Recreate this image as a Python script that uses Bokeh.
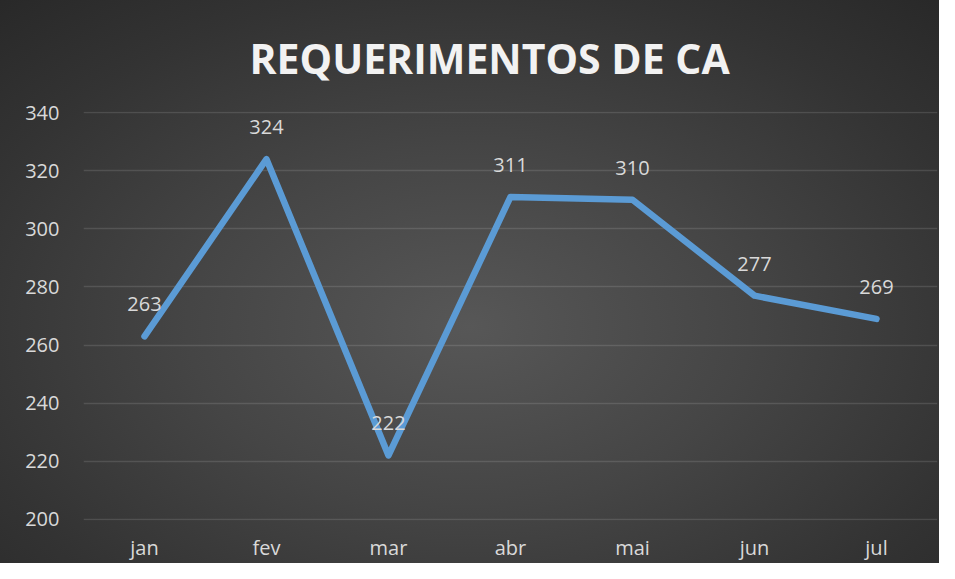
from bokeh.plotting import figure
from bokeh.models import ColumnDataSource, LabelSet, Range1d, Title
from bokeh.core.properties import value
from bokeh.embed import file_html
from bokeh.resources import INLINE

months = ["jan", "fev", "mar", "abr", "mai", "jun", "jul"]
values = [263, 324, 222, 311, 310, 277, 269]
labels = [str(v) for v in values]
y_ticks = [200, 220, 240, 260, 280, 300, 320, 340]
title_text = "REQUERIMENTOS DE CA"

source = ColumnDataSource(dict(x=months, y=values, label=labels))

p = figure(
    x_range=months,
    y_range=Range1d(199.6, 340.4),
    width=939,
    height=563,
    output_backend="svg",
    toolbar_location=None,
    min_border_left=83,
    min_border_right=2,
    min_border_top=111,
    min_border_bottom=41,
)

p.styles = {"background": "radial-gradient(ellipse 75% 80% at 50% 58%, #575757 0%, #454545 40%, #333333 75%, #282828 100%)"}
p.border_fill_alpha = 0
p.background_fill_alpha = 0
p.outline_line_color = None

p.title = Title(text=title_text, align="left", text_font="Open Sans",
                text_font_style="bold", text_font_size="41px", text_color="#f2f2f2",
                offset=166, standoff=52)

p.line("x", "y", source=source, line_color="#5B9BD5", line_width=6.5,
       line_join="round", line_cap="round")

lbl = LabelSet(x="x", y="y", text="label", source=source, y_offset=32,
               text_align="center", text_baseline="middle",
               text_font=value("Open Sans"), text_font_size=value("20px"),
               text_color=value("#d9d9d9"))
p.add_layout(lbl)

p.yaxis.ticker = y_ticks
for ax in (p.xaxis[0], p.yaxis[0]):
    ax.axis_line_color = None
    ax.major_tick_line_color = None
    ax.minor_tick_line_color = None
    ax.major_tick_in = 0
    ax.major_tick_out = 0
    ax.major_label_text_font = "Open Sans"
    ax.major_label_text_font_size = "20px"
    ax.major_label_text_color = "#d9d9d9"
p.yaxis.major_label_standoff = 24
p.xaxis.major_label_standoff = 13

p.xgrid.grid_line_color = None
p.ygrid.grid_line_color = "#ffffff"
p.ygrid.grid_line_alpha = 0.12
p.ygrid.grid_line_width = 1.5

open("out.html", "w").write(file_html(p, INLINE))
